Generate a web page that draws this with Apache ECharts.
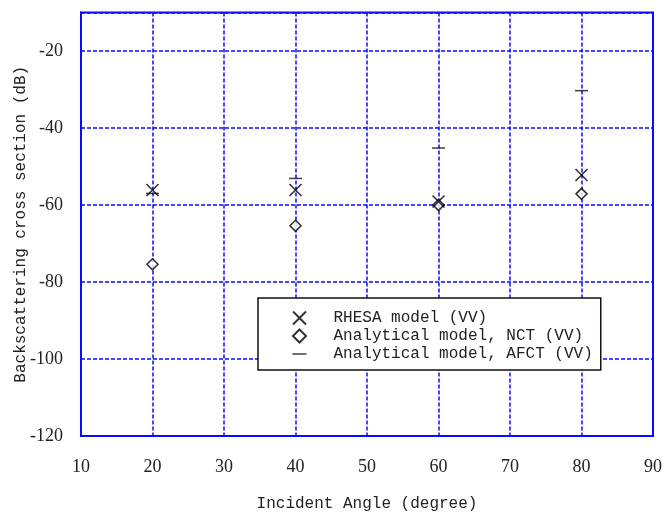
<!DOCTYPE html>
<html>
<head>
<meta charset="utf-8">
<title>Backscattering cross section</title>
<script src="https://cdn.jsdelivr.net/npm/echarts@6/dist/echarts.min.js"></script>
<style>
  html, body { margin: 0; padding: 0; background: #fff; }
  #chart { width: 663px; height: 516px; }
</style>
</head>
<body>
<div id="chart"></div>
<script>
// incident angles (deg)
const angles = [20, 40, 60, 80]
// backscattering cross section (dB)
const rhesaVV = [-56.1, -56.1, -59.1, -52.2]
const nctVV = [-75.4, -65.4, -60, -57.1]
const afctVV = [-57, -53.1, -45.2, -30.3]
const seriesNames = ['RHESA model (VV)', 'Analytical model, NCT (VV)', 'Analytical model, AFCT (VV)']

const blue = '#0a0aff'
const monoFont = '"Liberation Mono", monospace'
const serifFont = '"Liberation Serif", serif'

// symbols
const crossSym = 'path://M0,0L12,12M12,0L0,12'
const diamondSym = 'path://M6,0L12,6L6,12L0,6Z'
const dashSym = 'path://M0,0M0,5.3L13,5.3L13,6.7L0,6.7ZM13,12'

const pairs = arr => angles.map((a, i) => [a, arr[i]])

const chart = echarts.init(document.getElementById('chart'))
chart.setOption({
  animation: false,
  grid: {
    left: 81, right: 10, top: 12.5, bottom: 80,
    outerBoundsMode: 'none',
    show: true, borderColor: blue, borderWidth: 2
  },
  xAxis: {
    type: 'value', min: 10, max: 90, interval: 10,
    name: 'Incident Angle (degree)', nameLocation: 'middle', nameGap: 60,
    nameMoveOverlap: false,
    nameTextStyle: { fontFamily: monoFont, fontSize: 16, color: '#222' },
    axisLine: { lineStyle: { color: blue, width: 2 } },
    axisTick: { show: false },
    axisLabel: { fontFamily: serifFont, fontSize: 18, color: '#222', margin: 22 },
    splitLine: { lineStyle: { color: blue, width: 1.5, type: [4, 2] } }
  },
  yAxis: {
    type: 'value', min: -120, max: -10, interval: 20,
    name: 'Backscattering cross section (dB)', nameLocation: 'middle', nameGap: 52,
    nameMoveOverlap: false,
    nameTextStyle: { fontFamily: monoFont, fontSize: 16, color: '#222' },
    axisLine: { lineStyle: { color: blue, width: 2 } },
    axisTick: { show: false },
    axisLabel: {
      fontFamily: serifFont, fontSize: 18, color: '#222', margin: 18,
      formatter: v => (v === -10 ? '' : String(v))
    },
    splitLine: { lineStyle: { color: blue, width: 1.5, type: [4, 2] } }
  },
  legend: {
    left: 258, top: 298,
    orient: 'vertical',
    backgroundColor: '#fff',
    borderColor: '#111', borderWidth: 1.5,
    padding: [12, 8, 8, 34],
    itemGap: 2,
    itemWidth: 58, itemHeight: 13,
    textStyle: { fontFamily: monoFont, fontSize: 16, color: '#222', lineHeight: 15 },
    data: seriesNames
  },
  series: [
    {
      name: seriesNames[0], type: 'scatter', z: 5,
      symbol: crossSym, symbolSize: 12,
      itemStyle: { color: 'transparent', borderColor: '#000', borderWidth: 1.6 },
      data: pairs(rhesaVV)
    },
    {
      name: seriesNames[1], type: 'scatter', z: 4,
      symbol: diamondSym, symbolSize: 11,
      itemStyle: { color: '#fff', borderColor: '#000', borderWidth: 1.6 },
      data: pairs(nctVV)
    },
    {
      name: seriesNames[2], type: 'scatter', z: 3,
      symbol: dashSym, symbolSize: 13,
      itemStyle: { color: '#111' },
      data: pairs(afctVV)
    }
  ]
})
</script>
</body>
</html>
